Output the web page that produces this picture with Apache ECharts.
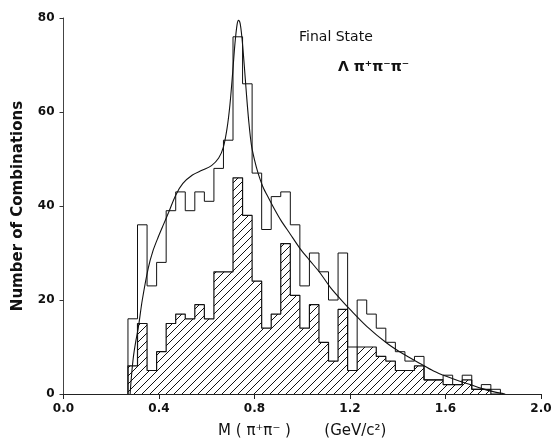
<!DOCTYPE html>
<html>
<head>
<meta charset="utf-8">
<script src="https://cdn.jsdelivr.net/npm/echarts@6/dist/echarts.min.js"></script>
<style>
  html, body { margin: 0; padding: 0; background: #fff; }
  #chart { width: 555px; height: 447px; }
</style>
</head>
<body>
<div id="chart"></div>
<script>
// Lower edges of the 40 MeV mass bins (GeV/c^2)
const binLow = [0.27, 0.31, 0.35, 0.39, 0.43, 0.47, 0.51, 0.55, 0.59, 0.63,
                0.67, 0.71, 0.75, 0.79, 0.83, 0.87, 0.91, 0.95, 0.99, 1.03,
                1.07, 1.11, 1.15, 1.19, 1.23, 1.27, 1.31, 1.35, 1.39, 1.43,
                1.47, 1.51, 1.55, 1.59, 1.63, 1.67, 1.71, 1.75, 1.79];
const binWidth = 0.04;

// All pi+ pi- combinations (open histogram)
const allCombos = [16, 36, 23, 28, 39, 43, 39, 43, 41, 48,
                   54, 76, 66, 47, 35, 42, 43, 36, 23, 30,
                   26, 20, 30, 10, 20, 17, 14, 11, 9, 7,
                   8, 3, 3, 4, 2, 4, 1, 2, 1];

// Selected combinations (hatched histogram)
const selectedCombos = [6, 15, 5, 9, 15, 17, 16, 19, 16, 26,
                        26, 46, 38, 24, 14, 17, 32, 21, 14, 19,
                        11, 7, 18, 5, 10, 10, 8, 7, 5, 5,
                        6, 3, 3, 2, 2, 3, 1, 1, 0];

// Fitted curve (rho peak on phase-space background)
const fitMass = [0.279, 0.285, 0.293, 0.302, 0.313, 0.330, 0.355, 0.375, 0.396, 0.420,
                 0.440, 0.470, 0.500, 0.540, 0.580, 0.620, 0.650, 0.670, 0.685, 0.697,
                 0.708, 0.718, 0.727, 0.733, 0.740, 0.748, 0.757, 0.766, 0.776, 0.787,
                 0.800, 0.815, 0.836, 0.860, 0.885, 0.910, 0.950, 0.990, 1.030, 1.074,
                 1.116, 1.160, 1.200, 1.270, 1.355, 1.420, 1.493, 1.550, 1.606, 1.660,
                 1.703, 1.750, 1.800, 1.850];
const fitCount = [0, 4, 8, 11, 14, 20, 26.8, 30.5, 33.3, 36.2,
                  38.6, 42.3, 44.8, 46.6, 47.6, 48.6, 50.2, 52.6, 56.5, 61.5,
                  68, 74.5, 78.6, 79.5, 78.8, 75.5, 70, 64, 58, 53,
                  49.8, 47, 44, 41.6, 39.2, 37, 34, 31, 28.5, 25.8,
                  22.8, 20.2, 18, 14.4, 10.8, 8.6, 6.5, 4.9, 3.7, 2.7,
                  2.0, 1.2, 0.5, 0];

const xTickLabels = ['0.0', '0.4', '0.8', '1.2', '1.6', '2.0'];
const yTickLabels = ['0', '20', '40', '60', '80'];

const FONT = 'DejaVu Sans';

// Outline of a histogram as step points (closed down to zero at both ends)
function stepPoints(counts) {
  const pts = [[binLow[0], 0]];
  counts.forEach((c, i) => pts.push([binLow[i], c]));
  const upper = binLow[binLow.length - 1] + binWidth;
  pts.push([upper, counts[counts.length - 1]]);
  pts.push([upper, 0]);
  return pts;
}

// Diagonal hatching tile
function hatchTile() {
  const s = 8;
  const c = document.createElement('canvas');
  c.width = s; c.height = s;
  const g = c.getContext('2d');
  g.fillStyle = '#fff';
  g.fillRect(0, 0, s, s);
  g.strokeStyle = '#111';
  g.lineWidth = 1;
  g.beginPath();
  g.moveTo(0, s); g.lineTo(s, 0);
  g.moveTo(-1, 1); g.lineTo(1, -1);
  g.moveTo(s - 1, s + 1); g.lineTo(s + 1, s - 1);
  g.stroke();
  return c;
}

const chart = echarts.init(document.getElementById('chart'), null, { renderer: 'canvas' });

chart.setOption({
  animation: false,
  backgroundColor: '#fff',
  grid: { left: 63.5, right: 14, top: 18, bottom: 53 },
  graphic: [
    {
      type: 'text', left: 299, top: 30,
      style: { text: 'Final State', font: '14px "' + FONT + '"', fill: '#111' }
    },
    {
      type: 'text', left: 338, top: 60,
      style: { text: 'Λ π⁺π⁻π⁻', font: 'bold 14px "' + FONT + '"', fill: '#111' }
    }
  ],
  xAxis: {
    type: 'value', min: 0, max: 2, interval: 0.4,
    name: 'M ( π⁺π⁻ )       (GeV/c²)',
    nameLocation: 'middle', nameGap: 30,
    nameTextStyle: { fontFamily: FONT, fontSize: 15, color: '#111' },
    axisLine: { show: true, onZero: false, lineStyle: { color: '#222', width: 1 } },
    axisTick: { show: true, inside: false, length: 5, lineStyle: { color: '#222' } },
    axisLabel: {
      margin: 9, fontFamily: FONT, fontSize: 12, fontWeight: 'bold', color: '#111',
      formatter: v => xTickLabels[Math.round(v / 0.4)]
    },
    splitLine: { show: false }
  },
  yAxis: {
    type: 'value', min: 0, max: 80, interval: 20,
    name: 'Number of Combinations',
    nameLocation: 'middle', nameGap: 38, nameRotate: 90,
    nameTextStyle: { fontFamily: FONT, fontSize: 15, fontWeight: 'bold', color: '#111' },
    axisLine: { show: true, lineStyle: { color: '#444', width: 1 } },
    axisTick: { show: true, inside: false, length: 4, lineStyle: { color: '#333' } },
    axisLabel: {
      margin: 9, fontFamily: FONT, fontSize: 12, fontWeight: 'bold', color: '#111',
      formatter: v => yTickLabels[Math.round(v / 20)]
    },
    splitLine: { show: false }
  },
  series: [
    {
      name: 'selected',
      type: 'line',
      step: 'end',
      symbol: 'none',
      data: stepPoints(selectedCombos),
      lineStyle: { color: '#111', width: 1.2 },
      areaStyle: { color: { image: hatchTile(), repeat: 'repeat' }, opacity: 1 },
      z: 2
    },
    {
      name: 'all',
      type: 'line',
      step: 'end',
      symbol: 'none',
      data: stepPoints(allCombos),
      lineStyle: { color: '#111', width: 1 },
      z: 3
    },
    {
      name: 'fit',
      type: 'line',
      symbol: 'none',
      smooth: 0.3,
      data: fitMass.map((m, i) => [m, fitCount[i]]),
      lineStyle: { color: '#111', width: 1.1 },
      z: 4
    }
  ]
});
</script>
</body>
</html>
